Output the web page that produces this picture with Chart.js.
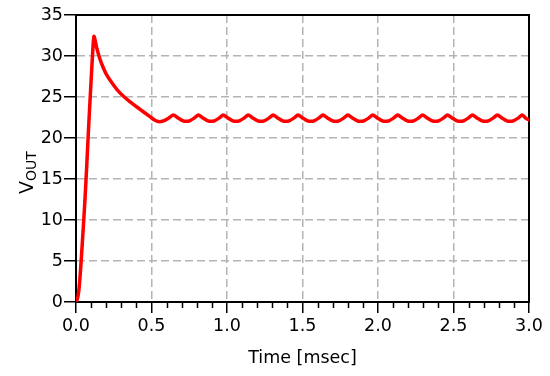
<!DOCTYPE html>
<html>
<head>
<meta charset="utf-8">
<script src="https://cdn.jsdelivr.net/npm/chart.js@4/dist/chart.umd.min.js"></script>
<style>
  html, body { margin: 0; padding: 0; background: #fff; }
  #wrap { width: 550px; height: 376px; }
</style>
</head>
<body>
<div id="wrap"><canvas id="vout"></canvas></div>
<script>
// output voltage (time in msec, volts)
const timeMs = [
  0, 0.01, 0.02, 0.03, 0.04, 0.05, 0.06, 0.07, 0.08, 0.09, 0.10, 0.11, 0.119,
  0.137, 0.159, 0.18, 0.203, 0.247, 0.291, 0.358, 0.424, 0.49, 0.52, 0.545, 0.58, 0.615,
  0.645, 0.675, 0.705, 0.73, 0.755, 0.785,
  0.81, 0.84, 0.87, 0.895, 0.92, 0.95,
  0.975, 1.005, 1.035, 1.06, 1.085, 1.115,
  1.14, 1.17, 1.2, 1.225, 1.25, 1.28,
  1.305, 1.335, 1.365, 1.39, 1.415, 1.445,
  1.47, 1.5, 1.53, 1.555, 1.58, 1.61,
  1.635, 1.665, 1.695, 1.72, 1.745, 1.775,
  1.8, 1.83, 1.86, 1.885, 1.91, 1.94,
  1.965, 1.995, 2.025, 2.05, 2.075, 2.105,
  2.13, 2.16, 2.19, 2.215, 2.24, 2.27,
  2.295, 2.325, 2.355, 2.38, 2.405, 2.435,
  2.46, 2.49, 2.52, 2.545, 2.57, 2.6,
  2.625, 2.655, 2.685, 2.71, 2.735, 2.765,
  2.79, 2.82, 2.85, 2.875, 2.9, 2.93,
  2.955, 2.98, 3.0
];
const vOut = [
  0, 0.4, 1.6, 3.9, 6.7, 9.6, 12.7, 16.2, 20, 23.6, 27, 30.3, 32.4,
  31.0, 29.6, 28.6, 27.7, 26.5, 25.5, 24.4, 23.5, 22.6, 22.2, 22.0, 22.1, 22.45,
  22.8, 22.45, 22.12, 22.03, 22.12, 22.45,
  22.8, 22.45, 22.12, 22.03, 22.12, 22.45,
  22.8, 22.45, 22.12, 22.03, 22.12, 22.45,
  22.8, 22.45, 22.12, 22.03, 22.12, 22.45,
  22.8, 22.45, 22.12, 22.03, 22.12, 22.45,
  22.8, 22.45, 22.12, 22.03, 22.12, 22.45,
  22.8, 22.45, 22.12, 22.03, 22.12, 22.45,
  22.8, 22.45, 22.12, 22.03, 22.12, 22.45,
  22.8, 22.45, 22.12, 22.03, 22.12, 22.45,
  22.8, 22.45, 22.12, 22.03, 22.12, 22.45,
  22.8, 22.45, 22.12, 22.03, 22.12, 22.45,
  22.8, 22.45, 22.12, 22.03, 22.12, 22.45,
  22.8, 22.45, 22.12, 22.03, 22.12, 22.45,
  22.8, 22.45, 22.12, 22.03, 22.12, 22.45,
  22.8, 22.4, 22.2
];
const xRange = [0, 3];
const yRange = [0, 35];
const xMajorStep = 0.5;
const xMinorStep = 0.1;
const yMajorStep = 5;
const xTitle = 'Time [msec]';
const yTitle = ['V', 'OUT'];

const FONT = 'DejaVu Sans';
const gridGray = '#b4b4b4';

// box around the plot + minor ticks on the time axis
const framePlugin = {
  id: 'frame',
  beforeDatasetsDraw(chart) {
    const { ctx, chartArea: a } = chart;
    const xs = chart.scales.x;
    ctx.save();
    ctx.strokeStyle = '#000';
    ctx.lineWidth = 1.5;
    ctx.beginPath();
    const n = Math.round((xRange[1] - xRange[0]) / xMinorStep);
    for (let i = 0; i <= n; i++) {
      if (i % 5 === 0) continue;
      const px = Math.round(xs.getPixelForValue(xRange[0] + i * xMinorStep)) + 0.5;
      ctx.moveTo(px, a.bottom);
      ctx.lineTo(px, a.bottom + 6);
    }
    ctx.stroke();
    ctx.lineWidth = 2;
    ctx.strokeRect(a.left, a.top, a.right - a.left, a.bottom - a.top);
    ctx.restore();
  },
  afterDraw(chart) {
    // y title with subscript
    const { ctx, chartArea: a } = chart;
    ctx.save();
    ctx.fillStyle = '#000';
    ctx.textBaseline = 'alphabetic';
    ctx.font = '19px "' + FONT + '"';
    const wV = ctx.measureText(yTitle[0]).width;
    ctx.font = '14px "' + FONT + '"';
    const wS = ctx.measureText(yTitle[1]).width;
    const cy = (a.top + a.bottom) / 2 + 14;
    ctx.translate(33, cy);
    ctx.rotate(-Math.PI / 2);
    const x0 = -(wV + wS) / 2;
    ctx.font = '19px "' + FONT + '"';
    ctx.fillText(yTitle[0], x0, 0);
    ctx.font = '14px "' + FONT + '"';
    ctx.fillText(yTitle[1], x0 + wV, 3);
    ctx.restore();
  }
};

new Chart(document.getElementById('vout'), {
  type: 'line',
  data: {
    datasets: [{
      data: timeMs.map((t, i) => ({ x: t, y: vOut[i] })),
      borderColor: '#ff0000',
      borderWidth: 3.5,
      borderJoinStyle: 'round',
      borderCapStyle: 'round',
      pointRadius: 0,
      tension: 0.25,
      fill: false
    }]
  },
  options: {
    responsive: true,
    maintainAspectRatio: false,
    animation: false,
    layout: { padding: { top: 15, right: 21, left: 0, bottom: 0 } },
    plugins: {
      legend: { display: false },
      tooltip: { enabled: false }
    },
    scales: {
      x: {
        type: 'linear',
        min: xRange[0],
        max: xRange[1],
        afterFit: (s) => { s.height = 74; },
        ticks: {
          stepSize: xMajorStep,
          autoSkip: false,
          maxRotation: 0,
          padding: 3,
          color: '#000',
          font: { family: FONT, size: 17.5 },
          callback: (v) => Number(v).toFixed(1)
        },
        grid: {
          color: gridGray,
          lineWidth: 1.5,
          tickColor: '#000',
          tickWidth: 1.5,
          tickLength: 11,
          tickBorderDash: []
        },
        border: { display: true, color: '#000', width: 2, dash: [8, 4] },
        title: {
          display: true,
          text: xTitle,
          color: '#000',
          font: { family: FONT, size: 17.5 },
          padding: { top: 0, bottom: 7 }
        }
      },
      y: {
        min: yRange[0],
        max: yRange[1],
        afterFit: (s) => { s.width = 76; },
        ticks: {
          stepSize: yMajorStep,
          padding: 1,
          color: '#000',
          font: { family: FONT, size: 17.5 }
        },
        grid: {
          color: gridGray,
          lineWidth: 1.5,
          tickColor: '#000',
          tickWidth: 1.5,
          tickLength: 12,
          tickBorderDash: []
        },
        border: { display: true, color: '#000', width: 2, dash: [8, 4] }
      }
    }
  },
  plugins: [framePlugin]
});
</script>
</body>
</html>
